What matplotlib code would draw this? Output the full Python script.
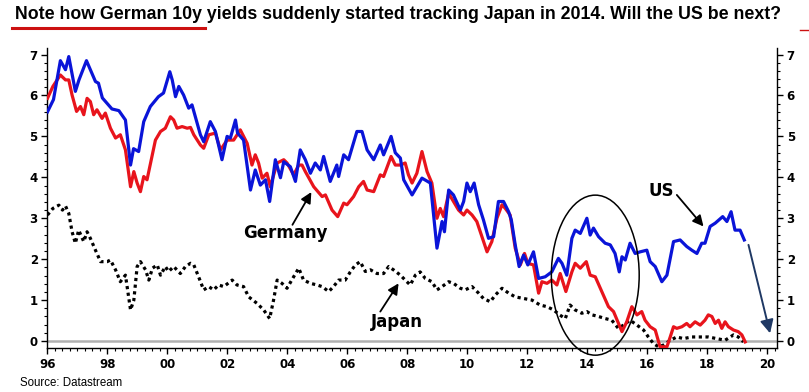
import matplotlib
matplotlib.use("Agg")
import matplotlib.pyplot as plt
from matplotlib.patches import Ellipse
from matplotlib.ticker import MultipleLocator, FixedLocator
from matplotlib.lines import Line2D

# --- 10y government bond yields (%) ---
us_t = [1996.0, 1996.2, 1996.43, 1996.6, 1996.71, 1996.93, 1997.05, 1997.3, 1997.6, 1997.7,
        1997.83, 1998.15, 1998.38, 1998.6, 1998.77, 1998.87, 1999.04, 1999.21, 1999.43, 1999.7,
        1999.87, 2000.08, 2000.16, 2000.27, 2000.38, 2000.54, 2000.71, 2000.82, 2001.1, 2001.21,
        2001.43, 2001.6, 2001.82, 2001.99, 2002.1, 2002.27, 2002.34, 2002.54, 2002.77, 2002.93,
        2003.1, 2003.27, 2003.41, 2003.6, 2003.77, 2003.88, 2004.1, 2004.27, 2004.43, 2004.6,
        2004.77, 2004.93, 2005.1, 2005.21, 2005.43, 2005.65, 2005.71, 2005.88, 2006.04, 2006.32,
        2006.49, 2006.66, 2006.88, 2007.1, 2007.21, 2007.46, 2007.6, 2007.77, 2007.88, 2008.16,
        2008.49, 2008.77, 2008.99, 2009.16, 2009.24, 2009.38, 2009.54, 2009.77, 2009.88, 2009.99,
        2010.1, 2010.23, 2010.38, 2010.54, 2010.71, 2010.88, 2011.04, 2011.21, 2011.38, 2011.47,
        2011.6, 2011.73, 2011.88, 2012.02, 2012.21, 2012.38, 2012.6, 2012.82, 2013.04, 2013.16,
        2013.32, 2013.49, 2013.6, 2013.77, 2013.99, 2014.1, 2014.21, 2014.38, 2014.6, 2014.77,
        2014.93, 2015.07, 2015.16, 2015.27, 2015.43, 2015.6, 2015.77, 2015.99, 2016.1, 2016.27,
        2016.49, 2016.66, 2016.88, 2017.1, 2017.32, 2017.49, 2017.66, 2017.82, 2017.93, 2018.1,
        2018.27, 2018.52, 2018.66, 2018.8, 2018.93, 2019.1, 2019.24]
us_y = [5.6, 5.9, 6.85, 6.63, 6.95, 6.1, 6.38, 6.85, 6.34, 6.3,
        5.94, 5.67, 5.63, 5.4, 4.3, 4.7, 4.63, 5.36, 5.73, 5.97,
        6.06, 6.58, 6.38, 5.97, 6.22, 6.01, 5.69, 5.77, 5.04, 4.87,
        5.36, 5.12, 4.43, 5.0, 4.96, 5.4, 5.08, 4.91, 3.69, 4.18,
        3.81, 3.94, 3.41, 4.43, 3.99, 4.38, 4.26, 3.9, 4.67, 4.43,
        4.1, 4.35, 4.18, 4.51, 3.9, 4.3, 4.02, 4.55, 4.43, 5.12,
        5.12, 4.67, 4.43, 4.79, 4.55, 5.0, 4.6, 4.47, 3.94, 3.57,
        3.98, 3.86, 2.27, 2.92, 2.67, 3.69, 3.57, 3.2, 3.41, 3.86,
        3.65, 3.86, 3.33, 2.96, 2.51, 2.55, 3.41, 3.41, 3.16, 2.96,
        2.35, 1.82, 2.1, 1.86, 2.18, 1.53, 1.57, 1.69, 2.02, 1.9,
        1.61, 2.51, 2.71, 2.63, 3.0, 2.59, 2.76, 2.55, 2.39, 2.35,
        2.14, 1.69, 2.06, 1.98, 2.39, 2.14, 2.18, 2.22, 1.94, 1.82,
        1.45, 1.61, 2.43, 2.47, 2.31, 2.22, 2.14, 2.39, 2.39, 2.8,
        2.88, 3.04, 2.92, 3.16, 2.71, 2.71, 2.47]

de_t = [1996.0, 1996.18, 1996.43, 1996.6, 1996.71, 1996.82, 1996.97, 1997.1, 1997.21, 1997.32,
        1997.43, 1997.54, 1997.65, 1997.82, 1997.93, 1998.1, 1998.27, 1998.43, 1998.6, 1998.77,
        1998.88, 1998.99, 1999.1, 1999.21, 1999.32, 1999.6, 1999.77, 1999.93, 2000.1, 2000.21,
        2000.32, 2000.49, 2000.66, 2000.77, 2000.88, 2001.1, 2001.21, 2001.38, 2001.6, 2001.77,
        2001.99, 2002.21, 2002.43, 2002.66, 2002.82, 2002.93, 2003.04, 2003.16, 2003.32, 2003.43,
        2003.66, 2003.88, 2003.99, 2004.21, 2004.38, 2004.49, 2004.6, 2004.88, 2005.16, 2005.27,
        2005.49, 2005.68, 2005.88, 2005.99, 2006.21, 2006.38, 2006.54, 2006.66, 2006.88, 2007.1,
        2007.21, 2007.46, 2007.6, 2007.77, 2007.93, 2008.04, 2008.16, 2008.32, 2008.49, 2008.66,
        2008.82, 2008.99, 2009.1, 2009.21, 2009.38, 2009.54, 2009.71, 2009.88, 2009.99, 2010.16,
        2010.32, 2010.47, 2010.66, 2010.82, 2010.99, 2011.16, 2011.27, 2011.43, 2011.6, 2011.77,
        2011.91, 2012.02, 2012.21, 2012.38, 2012.49, 2012.66, 2012.82, 2012.99, 2013.1, 2013.29,
        2013.49, 2013.6, 2013.77, 2013.97, 2014.1, 2014.27, 2014.54, 2014.71, 2014.88, 2015.16,
        2015.32, 2015.49, 2015.66, 2015.82, 2015.93, 2016.1, 2016.27, 2016.43, 2016.66, 2016.77,
        2016.88, 2016.99, 2017.16, 2017.32, 2017.43, 2017.6, 2017.77, 2017.93, 2018.04, 2018.16,
        2018.27, 2018.38, 2018.49, 2018.6, 2018.71, 2018.88, 2019.04, 2019.16, 2019.27]
de_y = [5.93, 6.22, 6.5, 6.38, 6.38, 6.01, 5.61, 5.73, 5.53, 5.93,
        5.85, 5.53, 5.65, 5.44, 5.57, 5.2, 4.96, 5.04, 4.67, 3.77,
        4.14, 3.86, 3.65, 4.02, 3.94, 4.91, 5.12, 5.2, 5.48, 5.4,
        5.2, 5.24, 5.2, 5.22, 5.04, 4.79, 4.71, 5.04, 5.08, 4.67,
        4.91, 4.91, 5.16, 4.83, 4.3, 4.55, 4.35, 3.98, 4.1, 3.77,
        4.35, 4.43, 4.35, 4.06, 4.3, 4.3, 4.14, 3.77, 3.53, 3.57,
        3.2, 3.04, 3.37, 3.33, 3.53, 3.77, 3.9, 3.69, 3.65, 4.06,
        4.02, 4.51, 4.3, 4.3, 4.35, 4.06, 3.86, 4.1, 4.63, 4.14,
        3.86, 3.0, 3.24, 3.04, 3.61, 3.41, 3.2, 3.08, 3.2, 3.08,
        2.92, 2.59, 2.18, 2.43, 3.0, 3.33, 3.24, 3.08, 2.27, 1.86,
        2.14, 1.9, 1.86, 1.17, 1.45, 1.41, 1.49, 1.37, 1.65, 1.21,
        1.69, 1.9, 1.78, 1.94, 1.61, 1.57, 1.12, 0.84, 0.72, 0.23,
        0.47, 0.84, 0.64, 0.72, 0.51, 0.35, 0.27, -0.14, -0.14, 0.1,
        0.35, 0.31, 0.35, 0.43, 0.35, 0.47, 0.39, 0.51, 0.64, 0.6,
        0.43, 0.51, 0.31, 0.47, 0.35, 0.27, 0.23, 0.15, -0.02]

jp_t = [1996.0, 1996.18, 1996.38, 1996.5, 1996.6, 1996.71, 1996.82, 1996.93, 1997.04, 1997.21,
        1997.32, 1997.43, 1997.6, 1997.77, 1997.99, 1998.1, 1998.27, 1998.43, 1998.6, 1998.77,
        1998.88, 1998.99, 1999.1, 1999.27, 1999.38, 1999.5, 1999.66, 1999.77, 1999.93, 2000.04,
        2000.21, 2000.43, 2000.6, 2000.77, 2000.88, 2001.04, 2001.21, 2001.38, 2001.54, 2001.71,
        2001.88, 2002.16, 2002.32, 2002.54, 2002.71, 2002.99, 2003.21, 2003.41, 2003.54, 2003.66,
        2003.82, 2003.99, 2004.21, 2004.38, 2004.54, 2004.77, 2004.99, 2005.16, 2005.38, 2005.54,
        2005.71, 2005.93, 2006.1, 2006.27, 2006.43, 2006.6, 2006.77, 2006.99, 2007.21, 2007.38,
        2007.54, 2007.77, 2007.93, 2008.1, 2008.27, 2008.43, 2008.6, 2008.82, 2008.99, 2009.16,
        2009.38, 2009.54, 2009.77, 2009.93, 2010.16, 2010.38, 2010.54, 2010.77, 2010.93, 2011.16,
        2011.38, 2011.6, 2011.88, 2012.16, 2012.43, 2012.66, 2012.88, 2013.08, 2013.27, 2013.43,
        2013.6, 2013.82, 2013.99, 2014.16, 2014.38, 2014.6, 2014.82, 2015.04, 2015.21, 2015.43,
        2015.66, 2015.88, 2016.04, 2016.21, 2016.38, 2016.54, 2016.77, 2016.99, 2017.21, 2017.49,
        2017.77, 2018.04, 2018.32, 2018.6, 2018.88, 2019.04, 2019.21]
jp_y = [3.08, 3.24, 3.32, 3.2, 3.3, 3.12, 2.67, 2.39, 2.71, 2.43,
        2.67, 2.51, 2.22, 1.94, 1.94, 1.98, 1.74, 1.45, 1.61, 0.76,
        1.0, 1.82, 1.94, 1.74, 1.49, 1.78, 1.86, 1.61, 1.82, 1.7,
        1.82, 1.65, 1.82, 1.9, 1.86, 1.57, 1.25, 1.33, 1.25, 1.37,
        1.33, 1.49, 1.37, 1.33, 1.08, 0.92, 0.76, 0.55, 1.0, 1.49,
        1.41, 1.29, 1.57, 1.78, 1.49, 1.41, 1.37, 1.33, 1.21, 1.33,
        1.49, 1.49, 1.69, 1.86, 1.94, 1.7, 1.74, 1.65, 1.65, 1.82,
        1.74, 1.61, 1.49, 1.37, 1.61, 1.69, 1.53, 1.45, 1.25, 1.33,
        1.45, 1.41, 1.29, 1.25, 1.33, 1.17, 1.04, 0.96, 1.12, 1.29,
        1.17, 1.08, 1.04, 1.0, 0.88, 0.84, 0.76, 0.64, 0.55, 0.88,
        0.76, 0.68, 0.72, 0.64, 0.6, 0.55, 0.51, 0.31, 0.39, 0.51,
        0.39, 0.27, 0.1, -0.06, -0.14, -0.1, 0.02, 0.1, 0.06, 0.1,
        0.1, 0.1, 0.06, 0.02, 0.15, 0.1, -0.02]

year_ticks = [1996, 1998, 2000, 2002, 2004, 2006, 2008, 2010, 2012, 2014, 2016, 2018, 2020]
year_labels = ["96", "98", "00", "02", "04", "06", "08", "10", "12", "14", "16", "18", "20"]

title = "Note how German 10y yields suddenly started tracking Japan in 2014. Will the US be next?"

plt.rcParams['font.family'] = ['Liberation Sans', 'DejaVu Sans']

fig = plt.figure(figsize=(8.09, 3.92), dpi=100)
ax = fig.add_axes([0.0587, 0.1122, 0.9017, 0.7654])

ax.axhline(0, color='#b0b0b0', lw=1.8, zorder=1)
ax.plot(jp_t, jp_y, color='black', lw=2.3, linestyle=(0, (1, 1.1)),
        dash_capstyle='butt', zorder=2)
ax.plot(de_t, de_y, color='#e8141c', lw=2.3, zorder=3)
ax.plot(us_t, us_y, color='#0a14d8', lw=2.3, zorder=4)

ax.set_xlim(1996.0, 2020.33)
ax.set_ylim(-0.17, 7.16)

# axes look
ax.spines['top'].set_visible(False)
for s in ['left', 'right', 'bottom']:
    ax.spines[s].set_linewidth(1.0)
ax.xaxis.set_major_locator(FixedLocator(year_ticks))
ax.set_xticklabels(year_labels)
ax.xaxis.set_minor_locator(MultipleLocator(0.25))
ax.yaxis.set_major_locator(MultipleLocator(1))
ax.yaxis.set_minor_locator(MultipleLocator(0.2))
ax.tick_params(axis='y', which='both', left=True, right=True, labelleft=True,
               labelright=True, direction='out')
ax.tick_params(axis='both', which='major', length=4, width=1, labelsize=8.5, pad=3)
ax.tick_params(axis='both', which='minor', length=2.5, width=0.8)
ax.tick_params(axis='x', which='both', direction='out')
tick_font = ['DejaVu Sans']
for t in ax.xaxis.get_major_ticks() + ax.yaxis.get_major_ticks():
    for lab in (t.label1, t.label2):
        lab.set_fontweight('bold')
        lab.set_family(tick_font)

# annotations
note_font = ['DejaVu Sans']
arrow_kw = dict(arrowstyle='-|>', color='black', lw=1.3, mutation_scale=16, shrinkA=0, shrinkB=0)
ax.annotate("", xy=(2004.8, 3.64), xytext=(2004.17, 2.84), arrowprops=arrow_kw)
ax.text(2003.93, 2.64, "Germany", ha='center', va='center', fontsize=12,
        fontweight='bold', family=note_font)
ax.annotate("", xy=(2007.71, 1.41), xytext=(2007.1, 0.72), arrowprops=arrow_kw)
ax.text(2007.65, 0.47, "Japan", ha='center', va='center', fontsize=12,
        fontweight='bold', family=note_font)
ax.annotate("", xy=(2017.88, 2.8), xytext=(2016.99, 3.57), arrowprops=arrow_kw)
ax.text(2016.47, 3.67, "US", ha='center', va='center', fontsize=12,
        fontweight='bold', family=note_font)
ax.annotate("", xy=(2020.1, 0.19), xytext=(2019.38, 2.35),
            arrowprops=dict(arrowstyle='-|>', color='#1f3864', lw=1.4, mutation_scale=20,
                            shrinkA=0, shrinkB=0),
            annotation_clip=False)
ax.add_patch(Ellipse((2014.27, 1.61), 2.93, 3.91, fill=False, lw=1.1,
                     edgecolor='black', clip_on=False, zorder=5))

# title with red underline
fig.text(0.019, 0.962, title, ha='left', va='center', fontsize=12.8, fontweight='bold')
fig.add_artist(Line2D([12 / 809, 205 / 809], [0.9286, 0.9286], color='#cc1111', lw=2.2))
fig.add_artist(Line2D([800 / 809, 809 / 809], [0.923, 0.923], color='#cc1111', lw=1.0))

fig.text(0.025, 0.022, "Source: Datastream", ha='left', va='center', fontsize=8.3)

fig.savefig("out.png", dpi=100)
